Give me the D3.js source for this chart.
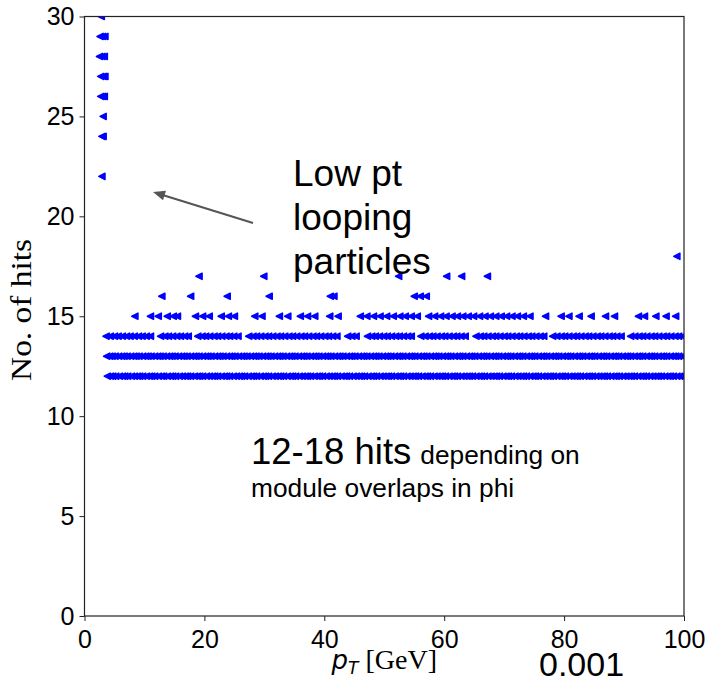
<!DOCTYPE html>
<html>
<head>
<meta charset="utf-8">
<script src="https://cdn.jsdelivr.net/npm/d3@7"></script>
<style>
  body { margin: 0; background: #fff; }
  svg { display: block; }
</style>
</head>
<body>
<script>
// Low pt looping particles (pT, hits)
const loopPt   = [2.8, 2.6, 3.0, 3.4, 2.5, 2.9, 3.3, 2.7, 3.1, 3.4, 2.7, 3.0, 3.3, 3.1, 2.9, 3.1, 2.9];
const loopHits = [30, 29, 29, 29, 28, 28, 28, 27, 27, 27, 26, 26, 26, 25, 24, 24, 22];

// pT values of the tracks in each hits row
const pt18 = [98.8];
const pt17 = [19.1, 29.9, 52.4, 60.4, 62.9, 67.2];
const pt16 = [12.9, 17.7, 23.8, 30.8, 41.0, 41.6, 55.0, 56.0, 57.0];
const pt15 = [8.4, 11.0, 12.3, 13.8, 14.8, 15.5, 18.5, 19.7, 20.8, 22.8, 24.0, 25.0, 28.4, 29.6,
  32.5, 33.9, 36.0, 37.2, 38.4, 40.9, 42.3, 46.0, 47.1, 48.2, 49.3, 50.4, 51.5, 52.6, 53.5,
  54.5, 55.5, 57.4, 58.4, 59.4, 60.3, 61.3, 62.2, 63.1, 64.0, 64.9, 65.9, 66.8, 67.7, 68.6,
  69.5, 70.4, 71.3, 72.2, 73.2, 74.3, 76.9, 79.5, 80.8, 82.5, 84.5, 86.9, 88.4, 92.4, 93.4,
  95.3, 97.0, 98.6];
const pt14 = [3.6, 4.3, 5.0, 5.6, 6.3, 7.0, 7.6, 8.3, 9.0, 9.6, 10.3, 11.0, 12.7, 13.4, 14.0,
  14.7, 15.4, 16.0, 16.7, 17.3, 18.9, 19.6, 20.2, 20.9, 21.6, 22.2, 22.9, 23.6, 24.2, 24.9,
  25.6, 27.4, 28.1, 28.7, 29.4, 30.1, 30.7, 31.4, 32.1, 32.7, 33.4, 34.1, 34.7, 35.4, 36.1,
  36.7, 37.4, 38.1, 38.7, 39.4, 40.1, 40.7, 41.4, 42.1, 43.9, 44.6, 45.3, 47.2, 47.9, 48.5,
  49.2, 49.9, 50.5, 51.2, 51.9, 52.5, 53.2, 53.9, 54.5, 56.1, 56.8, 57.5, 58.1, 58.8, 59.5,
  60.1, 60.8, 61.5, 62.1, 62.8, 63.5, 65.3, 66.0, 66.6, 67.3, 68.0, 68.6, 69.3, 70.0, 70.6,
  71.3, 72.0, 72.6, 73.3, 74.0, 74.6, 75.3, 76.0, 76.6, 78.1, 78.8, 79.5, 80.1, 80.8, 81.5,
  82.1, 82.8, 83.5, 84.1, 84.8, 85.5, 86.1, 86.8, 87.5, 88.1, 88.8, 89.5, 91.1, 91.8, 92.5,
  93.1, 93.8, 94.5, 95.1, 95.8, 96.5, 97.1, 97.8, 98.5, 99.1, 99.8];
const pt13 = [3.7, 4.2, 4.6, 5.1, 5.7, 6.2, 6.6, 7.1, 7.7, 8.2, 8.6, 9.1, 9.7, 10.2, 10.6, 11.1,
  11.7, 12.2, 12.6, 13.1, 13.7, 14.2, 14.6, 15.1, 15.7, 16.2, 16.6, 17.1, 17.7, 18.2, 18.6,
  19.1, 19.7, 20.2, 20.6, 21.1, 21.7, 22.2, 22.6, 23.1, 23.7, 24.2, 24.6, 25.1, 25.7, 26.2,
  26.6, 27.1, 27.7, 28.2, 28.6, 29.1, 29.7, 30.2, 30.6, 31.1, 31.7, 32.2, 32.6, 33.1, 33.7,
  34.2, 34.6, 35.1, 35.7, 36.2, 36.6, 37.1, 37.7, 38.2, 38.6, 39.1, 39.7, 40.2, 40.6, 41.1,
  41.7, 42.2, 42.6, 43.1, 43.7, 44.2, 44.6, 45.1, 45.7, 46.2, 46.6, 47.1, 47.7, 48.2, 48.6,
  49.1, 49.7, 50.2, 50.6, 51.1, 51.7, 52.2, 52.6, 53.1, 53.7, 54.2, 54.6, 55.1, 55.7, 56.2,
  56.6, 57.1, 57.7, 58.2, 58.6, 59.1, 59.7, 60.2, 60.6, 61.1, 61.7, 62.2, 62.6, 63.1, 63.7,
  64.2, 64.6, 65.1, 65.7, 66.2, 66.6, 67.1, 67.7, 68.2, 68.6, 69.1, 69.7, 70.2, 70.6, 71.1,
  71.7, 72.2, 72.6, 73.1, 73.7, 74.2, 74.6, 75.1, 75.7, 76.2, 76.6, 77.1, 77.7, 78.2, 78.6,
  79.1, 79.7, 80.2, 80.6, 81.1, 81.7, 82.2, 82.6, 83.1, 83.7, 84.2, 84.6, 85.1, 85.7, 86.2,
  86.6, 87.1, 87.7, 88.2, 88.6, 89.1, 89.7, 90.2, 90.6, 91.1, 91.7, 92.2, 92.6, 93.1, 93.7,
  94.2, 94.6, 95.1, 95.7, 96.2, 96.6, 97.1, 97.7, 98.2, 98.6, 99.1, 99.7];
const pt12 = [3.8, 4.3, 4.7, 5.2, 5.8, 6.3, 6.7, 7.2, 7.8, 8.3, 8.8, 9.2, 9.7, 10.3, 10.8, 11.2,
  11.7, 12.3, 12.8, 13.2, 13.8, 14.3, 14.7, 15.2, 15.8, 16.3, 16.8, 17.2, 17.7, 18.3, 18.8,
  19.2, 19.7, 20.3, 20.8, 21.3, 21.7, 22.2, 22.8, 23.3, 23.7, 24.2, 24.8, 25.3, 25.8, 26.2,
  26.7, 27.3, 27.8, 28.2, 28.7, 29.3, 29.8, 30.2, 30.7, 31.3, 31.8, 32.3, 32.7, 33.2, 33.8,
  34.3, 34.7, 35.2, 35.8, 36.3, 36.8, 37.2, 37.7, 38.3, 38.8, 39.2, 39.7, 40.3, 40.8, 41.3,
  41.7, 42.2, 42.8, 43.3, 43.7, 44.2, 44.8, 45.3, 45.8, 46.2, 46.7, 47.3, 47.8, 48.2, 48.7,
  49.3, 49.8, 50.3, 50.7, 51.2, 51.8, 52.3, 52.7, 53.2, 53.8, 54.3, 54.8, 55.2, 55.7, 56.3,
  56.8, 57.2, 57.7, 58.3, 58.8, 59.3, 59.7, 60.2, 60.8, 61.3, 61.7, 62.2, 62.8, 63.3, 63.8,
  64.2, 64.7, 65.3, 65.8, 66.2, 66.7, 67.3, 67.8, 68.3, 68.7, 69.2, 69.8, 70.3, 70.7, 71.2,
  71.8, 72.3, 72.8, 73.2, 73.7, 74.3, 74.8, 75.2, 75.7, 76.3, 76.8, 77.3, 77.7, 78.2, 78.8,
  79.3, 79.7, 80.2, 80.8, 81.3, 81.8, 82.2, 82.7, 83.3, 83.8, 84.2, 84.7, 85.3, 85.8, 86.3,
  86.7, 87.2, 87.8, 88.3, 88.7, 89.2, 89.8, 90.3, 90.8, 91.2, 91.7, 92.3, 92.8, 93.2, 93.7,
  94.3, 94.8, 95.3, 95.7, 96.2, 96.8, 97.3, 97.7, 98.2, 98.8, 99.3, 99.8];

const xTicks = [0, 20, 40, 60, 80, 100];
const yTicks = [0, 5, 10, 15, 20, 25, 30];

const width = 705, height = 679;
const margin = { top: 16.5, right: 21, bottom: 63, left: 84.5 };

const svg = d3.select("body").append("svg")
  .attr("width", width)
  .attr("height", height);

const x = d3.scaleLinear().domain([0, 100]).range([margin.left, width - margin.right]);
const y = d3.scaleLinear().domain([0, 30]).range([height - margin.bottom, margin.top]);

// build point list from the rows
const points = [];
loopPt.forEach((p, i) => points.push([p, loopHits[i]]));
[[12, pt12], [13, pt13], [14, pt14], [15, pt15], [16, pt16], [17, pt17], [18, pt18]]
  .forEach(([h, arr]) => arr.forEach(p => points.push([p, h])));

svg.append("clipPath").attr("id", "plot-clip")
  .append("rect")
  .attr("x", x(0)).attr("y", y(30))
  .attr("width", x(100) - x(0)).attr("height", y(0) - y(30));

// left-pointing triangle marker (with an edge like matplotlib scatter)
const r = 3.1;
const tri = `M${-r},0L${r},${-r}L${r},${r}Z`;

svg.append("g")
  .attr("clip-path", "url(#plot-clip)")
  .selectAll("path")
  .data(points)
  .enter()
  .append("path")
  .attr("d", tri)
  .attr("transform", d => `translate(${x(d[0])},${y(d[1])})`)
  .attr("fill", "#0000ff")
  .attr("stroke", "#0000ff")
  .attr("stroke-width", 1.5)
  .attr("stroke-linejoin", "round");

// axes
const xAxis = svg.append("g")
  .attr("transform", `translate(0,${y(0)})`)
  .call(d3.axisBottom(x).tickValues(xTicks).tickSize(5).tickPadding(4).tickFormat(d3.format("d")));
const yAxis = svg.append("g")
  .attr("transform", `translate(${x(0)},0)`)
  .call(d3.axisLeft(y).tickValues(yTicks).tickSize(5).tickPadding(5).tickFormat(d3.format("d")));

[xAxis, yAxis].forEach(a => {
  a.select(".domain").remove();
  a.selectAll("line").attr("stroke", "#222");
  a.selectAll("text")
    .attr("fill", "#000")
    .style("font-family", "Liberation Sans, Arial, sans-serif")
    .style("font-size", "25px");
});
xAxis.selectAll("text").attr("dy", "0.9em");

// frame
svg.append("rect")
  .attr("x", x(0)).attr("y", y(30))
  .attr("width", x(100) - x(0)).attr("height", y(0) - y(30))
  .attr("fill", "none")
  .attr("stroke", "#222")
  .attr("stroke-width", 1.2);

// axis labels
const xLab = svg.append("text")
  .attr("x", (x(0) + x(100)) / 2)
  .attr("y", 669)
  .attr("text-anchor", "middle")
  .attr("fill", "#000");
xLab.append("tspan")
  .style("font-family", "DejaVu Sans, sans-serif")
  .style("font-style", "italic")
  .style("font-size", "26px")
  .text("p");
xLab.append("tspan")
  .attr("dy", 5)
  .style("font-family", "DejaVu Sans, sans-serif")
  .style("font-style", "italic")
  .style("font-size", "17px")
  .text("T");
xLab.append("tspan")
  .attr("dy", -5)
  .attr("dx", 7)
  .style("font-family", "Liberation Serif, Times New Roman, serif")
  .style("font-size", "28px")
  .text("[GeV]");

svg.append("text")
  .attr("transform", `translate(31,310) rotate(-90)`)
  .attr("text-anchor", "middle")
  .attr("fill", "#000")
  .attr("textLength", 142)
  .attr("lengthAdjust", "spacingAndGlyphs")
  .style("font-family", "Liberation Serif, Times New Roman, serif")
  .style("font-size", "30px")
  .text("No. of hits");

// annotations
const anno = svg.append("g")
  .style("font-family", "Liberation Sans, Arial, sans-serif")
  .attr("fill", "#000");

["Low pt", "looping", "particles"].forEach((t, i) => {
  anno.append("text")
    .attr("x", 293)
    .attr("y", 186 + i * 44)
    .style("font-size", "37px")
    .text(t);
});

const line1 = anno.append("text").attr("x", 251).attr("y", 464);
line1.append("tspan").style("font-size", "36.5px").text("12-18 hits");
line1.append("tspan").attr("dx", 9).style("font-size", "26.3px").text("depending on");
anno.append("text")
  .attr("x", 251).attr("y", 497)
  .style("font-size", "26.3px")
  .text("module overlaps in phi");

anno.append("text")
  .attr("x", 539).attr("y", 676)
  .style("font-size", "34px")
  .text("0.001");

// arrow
const ax0 = 253, ay0 = 223, ax1 = 153, ay1 = 192;
svg.append("line")
  .attr("x1", ax0).attr("y1", ay0)
  .attr("x2", ax1 + 8).attr("y2", ay1 + 2.5)
  .attr("stroke", "#555")
  .attr("stroke-width", 2);
const ang = Math.atan2(ay1 - ay0, ax1 - ax0) * 180 / Math.PI;
svg.append("path")
  .attr("d", "M0,0L-12,-5L-12,5Z")
  .attr("transform", `translate(${ax1},${ay1}) rotate(${ang})`)
  .attr("fill", "#555");
</script>
</body>
</html>
